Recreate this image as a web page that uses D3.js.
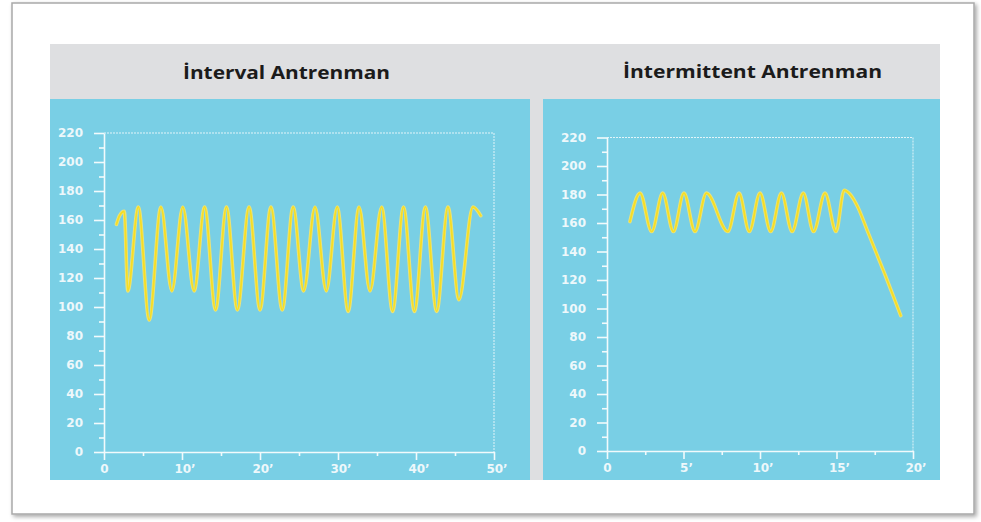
<!DOCTYPE html>
<html><head><meta charset="utf-8">
<script src="https://cdn.jsdelivr.net/npm/d3@7"></script>
<style>html,body{margin:0;padding:0;background:#fff;} svg{display:block;}</style>
</head><body>
<svg id="chart" width="981" height="522"></svg>
<script>
// ---- data ----
const titles = ["İnterval Antrenman", "İntermittent Antrenman"];
const yMajorTicks = [0, 20, 40, 60, 80, 100, 120, 140, 160, 180, 200, 220];
const yMinorTicks = [10, 30, 50, 70, 90, 110, 130, 150, 170, 190, 210];
const intervalXMajor = [0, 10, 20, 30, 40, 50];
const intervalXMinor = [5, 15, 25, 35, 45];
const intermittentXMajor = [0, 5, 10, 15, 20];
const intermittentXMinor = [2.5, 7.5, 12.5, 17.5];

const intervalTime = [1.6, 2.0, 2.6, 3.05, 4.4, 5.8, 7.3, 8.7, 10.1, 11.55, 12.9, 14.3, 15.7, 17.1, 18.6, 20.0, 21.4, 22.85, 24.25, 25.6, 27.05, 28.5, 29.9, 31.3, 32.7, 34.1, 35.6, 37.0, 38.4, 39.8, 41.2, 42.65, 44.1, 45.5, 47.3, 48.3];
const intervalHR   = [157, 163, 166, 111, 169, 91, 169, 111, 169, 111, 169, 98, 169, 98, 169, 98, 169, 98, 169, 111, 169, 111, 169, 97, 169, 111, 169, 97, 169, 97, 169, 97, 169, 105, 169, 163];

const intermittentTime = [1.5, 2.16, 2.92, 3.64, 4.34, 5.03, 5.75, 6.5, 7.9, 8.63, 9.3, 10.0, 10.7, 11.4, 12.1, 12.83, 13.5, 14.25, 14.97, 15.5, 15.9, 16.4, 17.0, 17.6, 18.2, 18.7, 19.2];
const intermittentHR   = [161, 181, 154, 181, 154, 181, 154, 181, 154, 181, 154, 181, 154, 181, 154, 181, 154, 181, 154, 183, 180, 171, 155, 139, 123, 109, 95];

// ---- drawing ----
const svg = d3.select("#chart");
const defs = svg.append("defs");
const f = defs.append("filter").attr("id", "shadow").attr("x", "-5%").attr("y", "-5%").attr("width", "110%").attr("height", "110%");
f.append("feDropShadow").attr("dx", 2).attr("dy", 2).attr("stdDeviation", 2).attr("flood-color", "#000").attr("flood-opacity", 0.35);

// outer frame
svg.append("rect").attr("x", 12).attr("y", 3).attr("width", 962).attr("height", 511)
  .attr("fill", "#fff").attr("stroke", "#a9a9a9").attr("stroke-width", 1.5).attr("filter", "url(#shadow)");

// gray header / background
svg.append("rect").attr("x", 50).attr("y", 44).attr("width", 890).attr("height", 436).attr("fill", "#dedfe1");

const BLUE = "#79cfe5";
const TXT = "#eef8fb";

const panels = [
  {px: 50, pw: 480, title: titles[0], tx: 286.5, ty: 79, tw: 207,
   xDomain: [0, 50], xRange: [104, 494], yRange: [452, 133],
   xMajor: intervalXMajor, xMinor: intervalXMinor, time: intervalTime, hr: intervalHR},
  {px: 543, pw: 397, title: titles[1], tx: 752.5, ty: 77.5, tw: 259,
   xDomain: [0, 20], xRange: [607, 913], yRange: [451, 137.5],
   xMajor: intermittentXMajor, xMinor: intermittentXMinor, time: intermittentTime, hr: intermittentHR}
];

panels.forEach(p => {
  svg.append("rect").attr("x", p.px).attr("y", 99).attr("width", p.pw).attr("height", 381).attr("fill", BLUE);
  svg.append("text").attr("x", p.tx).attr("y", p.ty).attr("text-anchor", "middle")
    .attr("font-family", "'Open Sans', sans-serif").attr("font-weight", "bold").attr("font-size", 18)
    .attr("fill", "#1b1b1b").attr("textLength", p.tw).attr("lengthAdjust", "spacingAndGlyphs").text(p.title);

  const x = d3.scaleLinear().domain(p.xDomain).range(p.xRange);
  const y = d3.scaleLinear().domain([0, 220]).range(p.yRange);
  const x0 = p.xRange[0], x1 = p.xRange[1], yb = p.yRange[0], yt = p.yRange[1];

  // dotted frame top & right
  svg.append("path").attr("d", `M${x0},${yt}H${x1}V${yb}`).attr("fill", "none")
    .attr("stroke", "#f4fbfd").attr("stroke-opacity", 0.85).attr("stroke-width", 1).attr("stroke-dasharray", "2,1");

  const style = (g) => {
    g.selectAll("path.domain").attr("stroke", "#f2fafc").attr("stroke-width", 1.6);
    g.selectAll(".tick line").attr("stroke", "#f2fafc").attr("stroke-width", 1.6);
    g.selectAll(".tick text").attr("fill", TXT).attr("font-family", "'DejaVu Sans', sans-serif")
      .attr("font-weight", "bold").attr("font-size", 12);
  };

  // y axis
  svg.append("g").attr("transform", `translate(${x0},0)`)
    .call(d3.axisLeft(y).tickValues(yMinorTicks).tickSize(5).tickSizeOuter(0).tickFormat(""))
    .call(style).select("path.domain").remove();
  svg.append("g").attr("transform", `translate(${x0},0)`)
    .call(d3.axisLeft(y).tickValues(yMajorTicks).tickSize(10).tickSizeOuter(0).tickPadding(11))
    .call(style);

  // x axis
  svg.append("g").attr("transform", `translate(0,${yb})`)
    .call(d3.axisBottom(x).tickValues(p.xMinor).tickSize(4).tickSizeOuter(0).tickFormat(""))
    .call(style).select("path.domain").remove();
  const gx = svg.append("g").attr("transform", `translate(0,${yb})`)
    .call(d3.axisBottom(x).tickValues(p.xMajor).tickSize(8).tickSizeOuter(0).tickPadding(4)
      .tickFormat(d => d === 0 ? "0" : d + "’"))
    .call(style);
  gx.selectAll(".tick text").attr("dx", d => d === 0 ? 0 : 2.5);

  // line
  const pts = p.time.map((t, i) => [t, p.hr[i]]);
  const line = d3.line().x(d => x(d[0])).y(d => y(d[1])).curve(d3.curveMonotoneX);
  svg.append("path").datum(pts).attr("d", line).attr("fill", "none")
    .attr("stroke", "#e8e37e").attr("stroke-width", 3.6).attr("stroke-linejoin", "round").attr("stroke-linecap", "round");
  svg.append("path").datum(pts).attr("d", line).attr("fill", "none")
    .attr("stroke", "#f6de24").attr("stroke-width", 1.8).attr("stroke-linejoin", "round").attr("stroke-linecap", "round");
});
</script>
</body></html>
